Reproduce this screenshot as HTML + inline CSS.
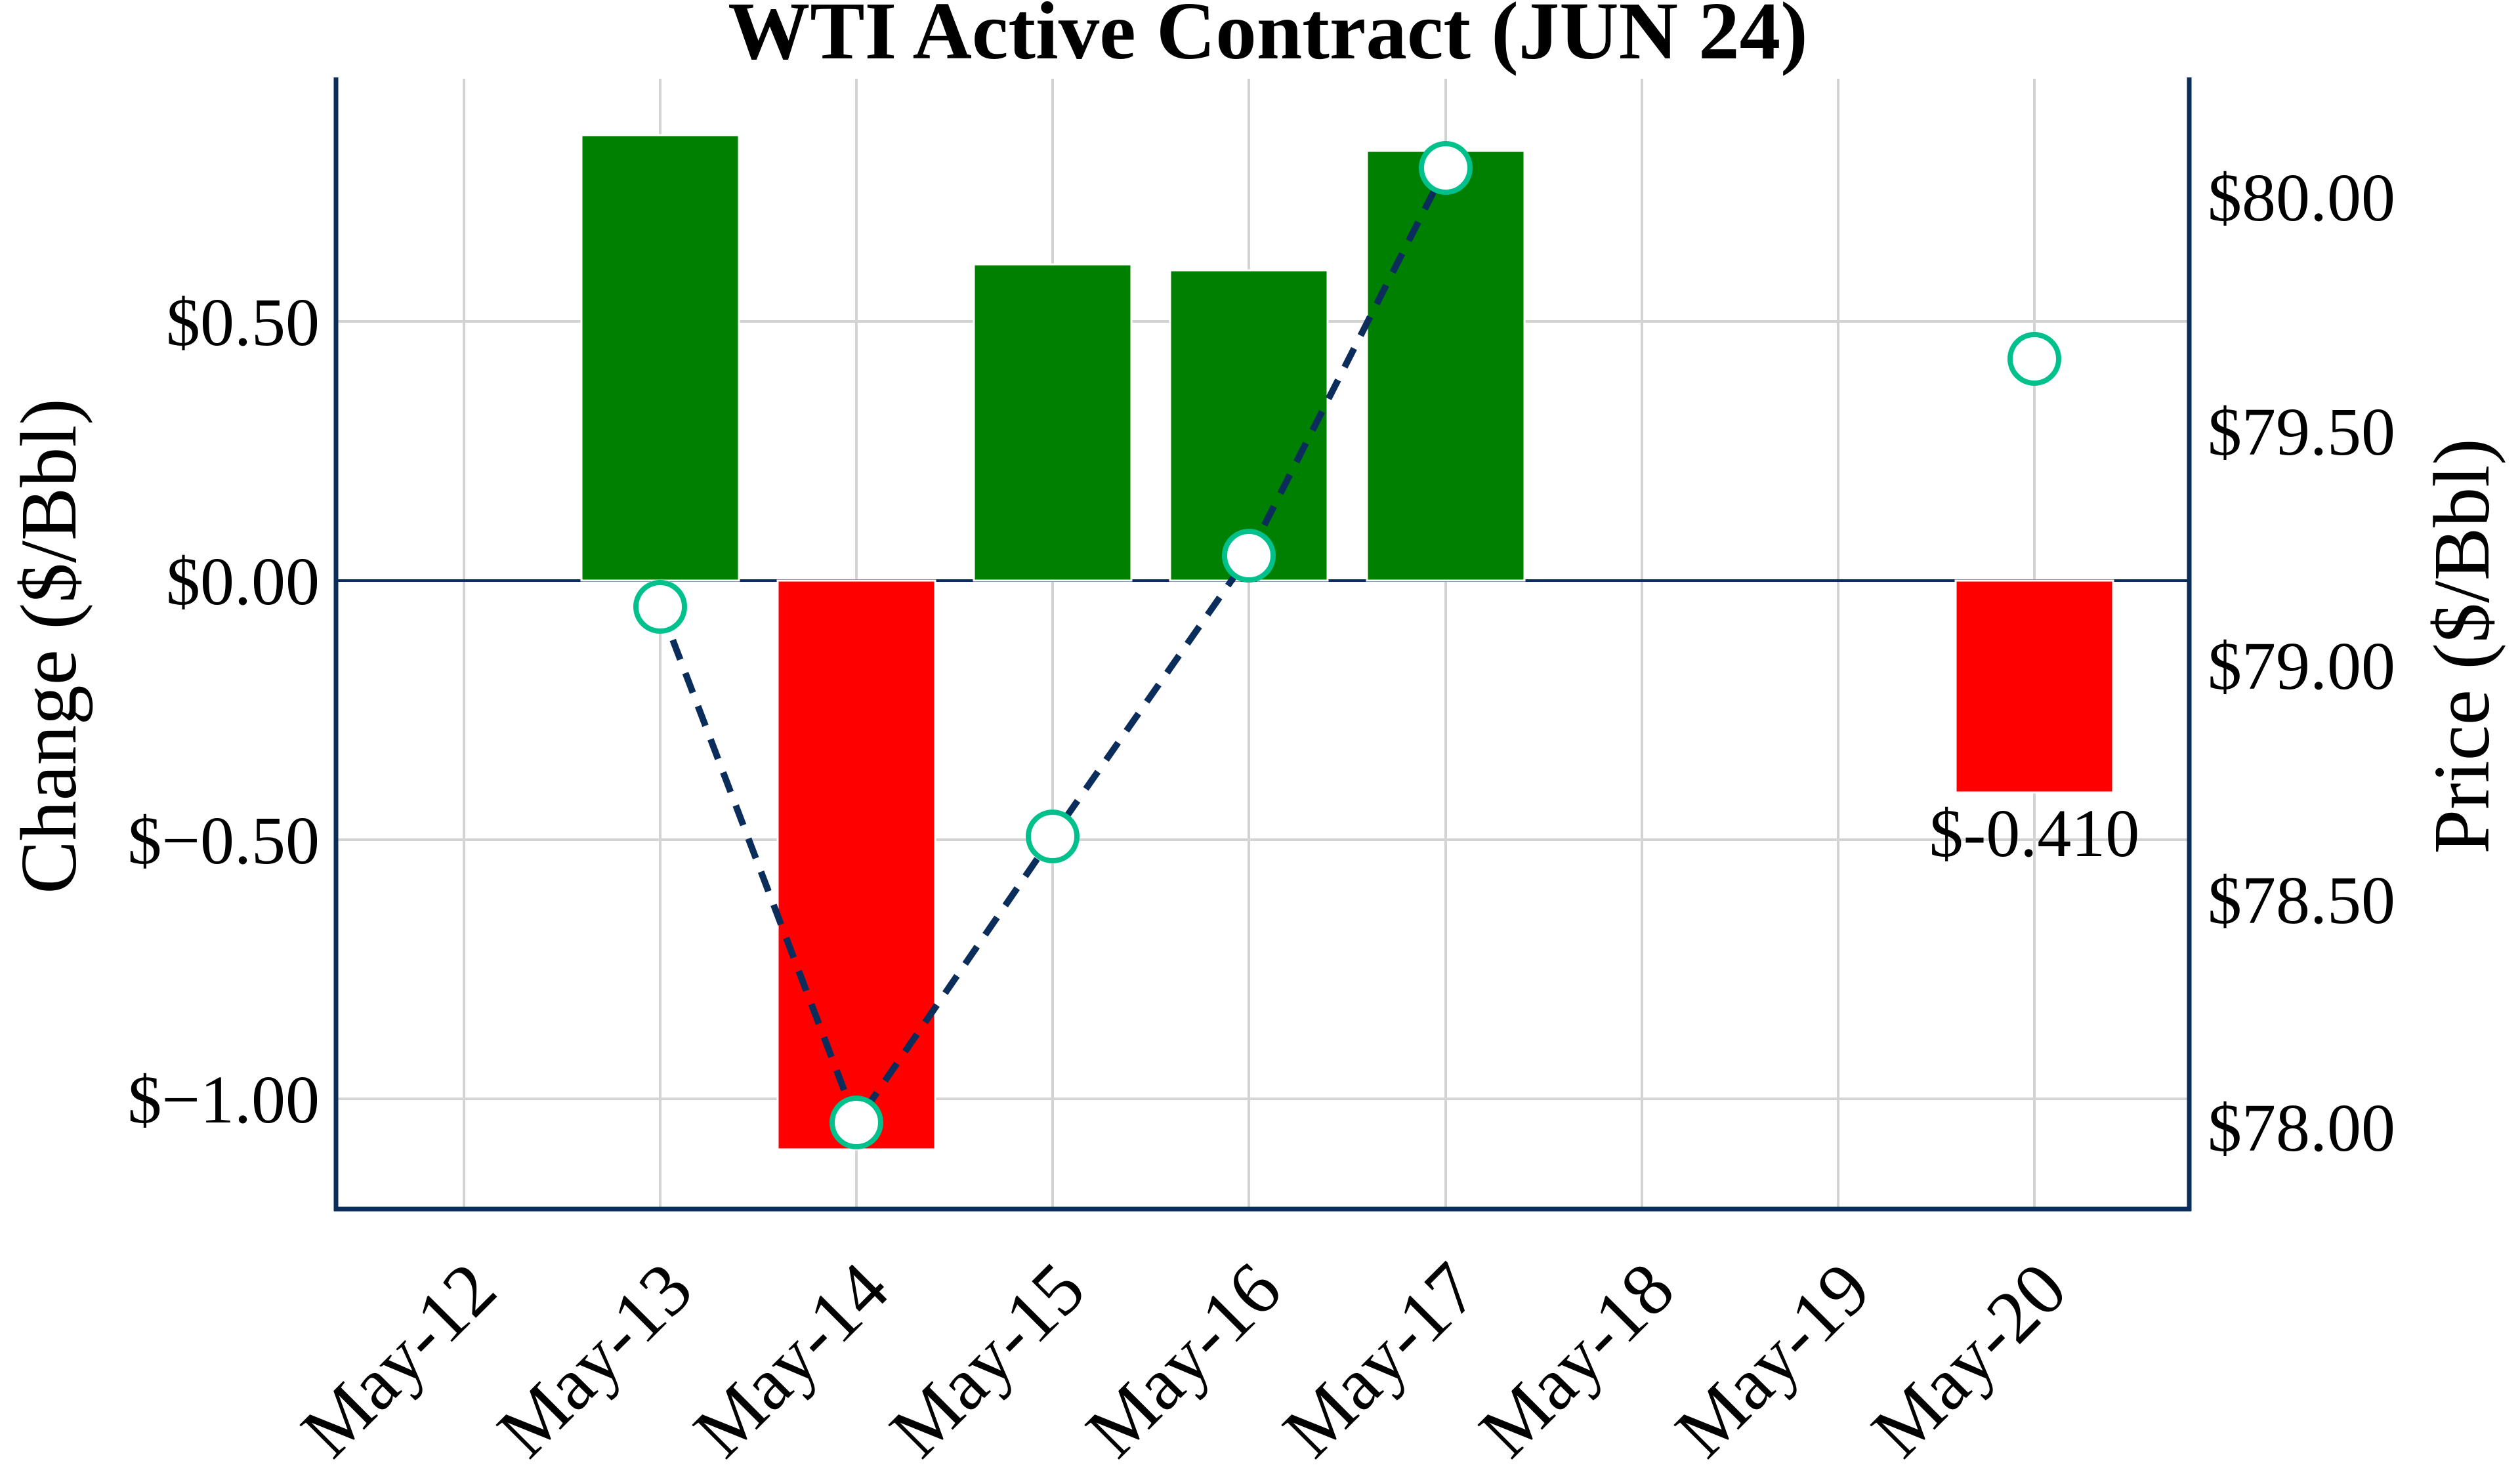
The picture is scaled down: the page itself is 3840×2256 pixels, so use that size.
<!DOCTYPE html>
<html><head><meta charset="utf-8"><style>html,body{margin:0;padding:0;background:#fff}svg{display:block}</style></head>
<body>
<svg width="3840" height="2256" viewBox="0 0 3840 2256" xmlns="http://www.w3.org/2000/svg" font-family="'Liberation Serif', serif">
<rect width="3840" height="2256" fill="#fff"/>
<g stroke="#d3d3d3" stroke-width="4">
<line x1="707" y1="120" x2="707" y2="1843"/>
<line x1="1006" y1="120" x2="1006" y2="1843"/>
<line x1="1305" y1="120" x2="1305" y2="1843"/>
<line x1="1604" y1="120" x2="1604" y2="1843"/>
<line x1="1903" y1="120" x2="1903" y2="1843"/>
<line x1="2203" y1="120" x2="2203" y2="1843"/>
<line x1="2502" y1="120" x2="2502" y2="1843"/>
<line x1="2801" y1="120" x2="2801" y2="1843"/>
<line x1="3100" y1="120" x2="3100" y2="1843"/>
<line x1="512" y1="490" x2="3336" y2="490"/>
<line x1="512" y1="1280" x2="3336" y2="1280"/>
<line x1="512" y1="1675" x2="3336" y2="1675"/>
</g>
<line x1="512" y1="885" x2="3336" y2="885" stroke="#0b2d5b" stroke-width="4"/>
<g stroke="#fff" stroke-width="3">
<rect x="886" y="206" width="240" height="679" fill="#008000"/>
<rect x="1185" y="885" width="240" height="867" fill="#ff0000"/>
<rect x="1484" y="403" width="240" height="482" fill="#008000"/>
<rect x="1783" y="412" width="240" height="473" fill="#008000"/>
<rect x="2083" y="230" width="240" height="655" fill="#008000"/>
<rect x="2980" y="885" width="240" height="323" fill="#ff0000"/>
</g>
<polyline points="1006,925 1305,1711 1604,1275 1903,847 2203,256" fill="none" stroke="#0b2d5b" stroke-width="10" stroke-dasharray="32,22"/>
<g fill="#fff" stroke="#00c08b" stroke-width="8">
<circle cx="1006" cy="925" r="37"/>
<circle cx="1305" cy="1711" r="37"/>
<circle cx="1604" cy="1275" r="37"/>
<circle cx="1903" cy="847" r="37"/>
<circle cx="2203" cy="256" r="37"/>
<circle cx="3100" cy="547" r="37"/>
</g>
<g stroke="#0b2d5b" stroke-width="7" fill="none">
<line x1="512" y1="118" x2="512" y2="1846"/>
<line x1="3336" y1="118" x2="3336" y2="1846"/>
<line x1="509" y1="1843" x2="3339" y2="1843"/>
</g>
<text x="1932" y="89" font-size="125" font-weight="bold" text-anchor="middle">WTI Active Contract (JUN 24)</text>
<g font-size="104" text-anchor="end">
<text x="487" y="526">$0.50</text>
<text x="487" y="921">$0.00</text>
<text x="487" y="1316">$−0.50</text>
<text x="487" y="1711">$−1.00</text>
</g>
<g font-size="104">
<text x="3364" y="336">$80.00</text>
<text x="3364" y="693">$79.50</text>
<text x="3364" y="1050">$79.00</text>
<text x="3364" y="1407">$78.50</text>
<text x="3364" y="1754">$78.00</text>
</g>
<text x="3100" y="1305" font-size="104" text-anchor="middle">$-0.410</text>
<text transform="translate(115,985) rotate(-90)" font-size="122" text-anchor="middle">Change ($/Bbl)</text>
<text transform="translate(3792,985) rotate(-90)" font-size="122" text-anchor="middle">Price ($/Bbl)</text>
<g font-size="114" text-anchor="end">
<text transform="translate(762,1972) rotate(-45)">May-12</text>
<text transform="translate(1061,1972) rotate(-45)">May-13</text>
<text transform="translate(1360,1972) rotate(-45)">May-14</text>
<text transform="translate(1659,1972) rotate(-45)">May-15</text>
<text transform="translate(1958,1972) rotate(-45)">May-16</text>
<text transform="translate(2258,1972) rotate(-45)">May-17</text>
<text transform="translate(2557,1972) rotate(-45)">May-18</text>
<text transform="translate(2856,1972) rotate(-45)">May-19</text>
<text transform="translate(3155,1972) rotate(-45)">May-20</text>
</g>
</svg>
</body></html>
